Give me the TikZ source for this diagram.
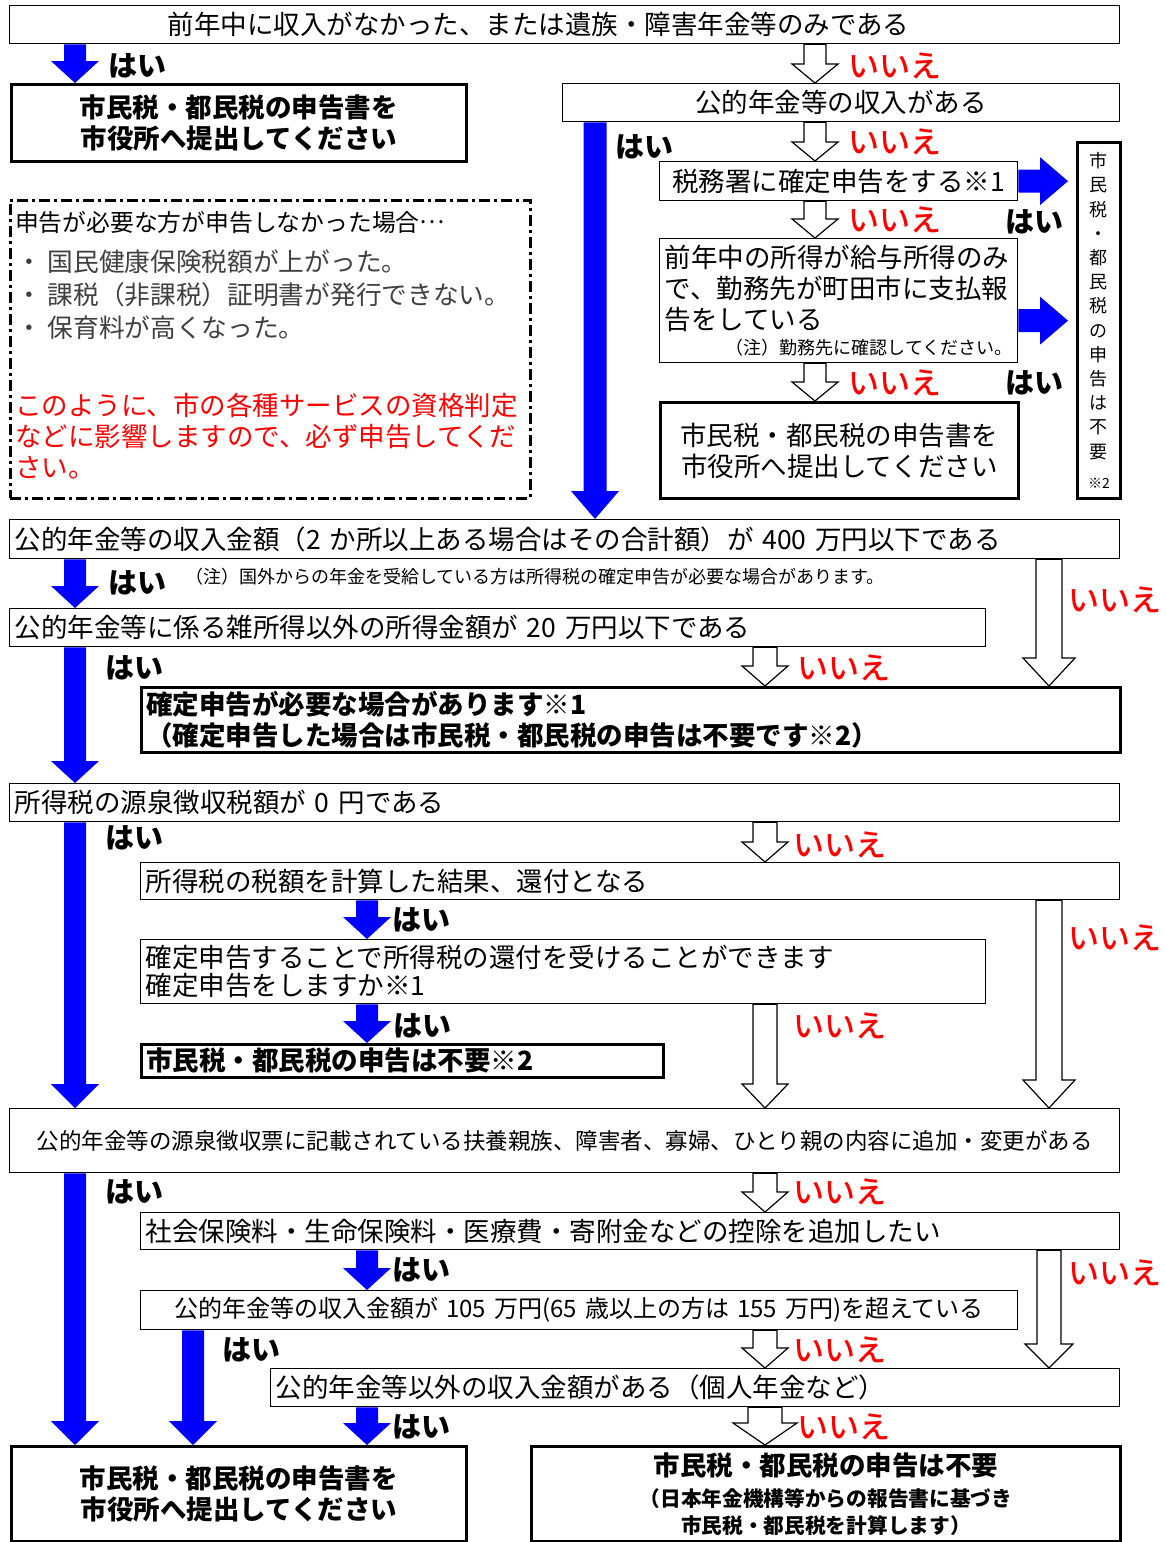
\documentclass[tikz,border=0pt]{standalone}
\usepackage{fontspec}
\setmainfont{Noto Sans CJK JP}
\newfontfamily\jpmedium{Noto Sans CJK JP Medium}
\usetikzlibrary{calc}

\newcommand{\fsz}[1]{\fontsize{#1}{#1}\selectfont}
% block arrows: style, from, to, half shaft, half head, head length
\newcommand{\blockdown}[6]{%
  \path[#1] let \p1=(#2), \p2=(#3) in
    (\x1-#4pt,\y1) -- (\x1-#4pt,\y2+#6pt) -- (\x1-#5pt,\y2+#6pt) -- (\x1,\y2)
    -- (\x1+#5pt,\y2+#6pt) -- (\x1+#4pt,\y2+#6pt) -- (\x1+#4pt,\y1) -- cycle;}
\newcommand{\blockright}[6]{%
  \path[#1] let \p1=(#2), \p2=(#3) in
    (\x1,\y1+#4pt) -- (\x2-#6pt,\y1+#4pt) -- (\x2-#6pt,\y1+#5pt) -- (\x2,\y1)
    -- (\x2-#6pt,\y1-#5pt) -- (\x2-#6pt,\y1-#4pt) -- (\x1,\y1-#4pt) -- cycle;}

\begin{document}
\begin{tikzpicture}[
    x=1pt, y=-1pt,
    box/.style={rectangle, draw=black, line width=1.3pt, anchor=north west,
      inner xsep=5pt, inner ysep=0pt, align=left, font=\fontsize{26.5}{31}\selectfont},
    boldbox/.style={box, line width=2.8pt, font=\bfseries\fontsize{26.5}{31}\selectfont},
    yes/.style={anchor=west, inner sep=0pt, font=\bfseries\fontsize{29}{29}\selectfont},
    no/.style={anchor=west, inner sep=0pt, text=red, font=\jpmedium\fontsize{31}{31}\selectfont},
    bluearrow/.style={fill=blue},
    hollowarrow/.style={fill=white, draw=black, line width=1.2pt, line join=miter}
]
\path[use as bounding box, fill=white] (0,0) rectangle (1166,1542);

% ============================================
% COLUMNAS DE FLECHAS
% ============================================
\coordinate (c1) at (75,0);
\coordinate (c2) at (815,0);
\coordinate (c3) at (595,0);
\coordinate (c4) at (765,0);
\coordinate (c5) at (1049,0);
\coordinate (c6) at (367,0);
\coordinate (c7) at (193,0);

% ============================================
% PARTE SUPERIOR
% ============================================
\node[box, text width=1100pt, minimum height=38pt] (top) at (9,5)
  {\hspace*{153pt}前年中に収入がなかった、または遺族・障害年金等のみである};
\node[boldbox, align=center, text width=445pt, minimum height=77pt] (filingA) at (10,83)
  {市民税・都民税の申告書を\\市役所へ提出してください};
\node[box, align=center, text width=547pt, minimum height=38pt] (pension) at (562,83)
  {公的年金等の収入がある};
\node[box, align=center, text width=348pt, minimum height=39pt] (taxoffice) at (659,161)
  {税務署に確定申告をする※1};
\node[box, text width=348pt, minimum height=124pt] (salary) at (659,238)
  {前年中の所得が給与所得のみ\\で、勤務先が町田市に支払報\\告をしている\\[-6pt]
   \hspace*{0pt plus 1filll}{\fsz{18}（注）勤務先に確認してください。}};
\node[box, line width=2.8pt, align=center, text width=348pt, minimum height=96pt] (filingR) at (659,401)
  {市民税・都民税の申告書を\\市役所へ提出してください};
\node[box, line width=2.8pt, align=center, text width=33pt, minimum height=356pt,
  font=\fontsize{18}{24.2}\selectfont] (noneedV) at (1076,141)
  {市\\民\\税\\・\\都\\民\\税\\の\\申\\告\\は\\不\\要\\[6pt]{\fsz{14}※2}};

% recuadro de aviso
\node[rectangle, draw=black, line width=2.6pt, dash pattern=on 11pt off 4pt on 3pt off 4pt,
  anchor=north west, minimum width=520pt, minimum height=298pt] (warn) at (9,199) {};
\node[anchor=west, inner sep=0pt, font=\fontsize{23.8}{26}\selectfont] (warnhead) at (15,222)
  {申告が必要な方が申告しなかった場合\raisebox{0.3em}{…}};
\node[anchor=west, inner sep=0pt, text=black!75, font=\fontsize{25.7}{28}\selectfont] (warn1) at (16,262)
  {・ 国民健康保険税額が上がった。};
\node[anchor=west, inner sep=0pt, text=black!75, font=\fontsize{25.7}{28}\selectfont] (warn2) at (16,295)
  {・ 課税（非課税）証明書が発行できない。};
\node[anchor=west, inner sep=0pt, text=black!75, font=\fontsize{25.7}{28}\selectfont] (warn3) at (16,328)
  {・ 保育料が高くなった。};
\node[anchor=north west, inner sep=0pt, align=left, text=red, font=\fontsize{26.5}{31}\selectfont] (warnred) at (15,393)
  {このように、市の各種サービスの資格判定\\などに影響しますので、必ず申告してくだ\\さい。};

% ============================================
% PARTE CENTRAL
% ============================================
\node[box, text width=1100pt, minimum height=39pt] (amount) at (9,519)
  {公的年金等の収入金額（2 か所以上ある場合はその合計額）が 400 万円以下である};
\node[anchor=west, inner sep=0pt, font=\fontsize{18}{20}\selectfont] (abroad) at (185,577)
  {（注）国外からの年金を受給している方は所得税の確定申告が必要な場合があります。};
\node[box, text width=966pt, minimum height=38pt] (other) at (9,608)
  {公的年金等に係る雑所得以外の所得金額が 20 万円以下である};
\node[boldbox, text width=969pt, minimum height=65pt] (mayfile) at (140,686)
  {確定申告が必要な場合があります※1\\（確定申告した場合は市民税・都民税の申告は不要です※2）};
\node[box, text width=1100pt, minimum height=38pt] (withheld) at (9,783)
  {所得税の源泉徴収税額が 0 円である};
\node[box, text width=969pt, minimum height=37pt] (refund) at (140,862)
  {所得税の税額を計算した結果、還付となる};
\node[box, text width=835pt, minimum height=64pt, font=\fontsize{26.5}{28}\selectfont] (askfile) at (140,939)
  {確定申告することで所得税の還付を受けることができます\\確定申告をしますか※1};
\node[boldbox, text width=512pt, minimum height=33pt] (noneedA) at (140,1043)
  {市民税・都民税の申告は不要※2};

% ============================================
% PARTE INFERIOR
% ============================================
\node[box, align=center, text width=1100pt, minimum height=64pt, font=\fontsize{22.5}{26}\selectfont] (dependents) at (9,1108)
  {公的年金等の源泉徴収票に記載されている扶養親族、障害者、寡婦、ひとり親の内容に追加・変更がある};
\node[box, text width=969pt, minimum height=37pt] (deduction) at (140,1212)
  {社会保険料・生命保険料・医療費・寄附金などの控除を追加したい};
\node[box, align=center, text width=867pt, minimum height=39pt, font=\fontsize{24}{28}\selectfont] (over105) at (140,1290)
  {公的年金等の収入金額が~105~万円(65~歳以上の方は~155~万円)を超えている};
\node[box, text width=839pt, minimum height=38pt] (private) at (270,1368)
  {公的年金等以外の収入金額がある（個人年金など）};
\node[boldbox, align=center, text width=445pt, minimum height=95pt] (filingB) at (10,1445)
  {市民税・都民税の申告書を\\市役所へ提出してください};
\node[boldbox, align=center, text width=579pt, minimum height=95pt] (noneedB) at (530,1445)
  {市民税・都民税の申告は不要\\{\fsz{20.7}（日本年金機構等からの報告書に基づき}\\[-4pt]{\fsz{20.7}市民税・都民税を計算します）}};

% ============================================
% FLECHAS AZULES (はい)
% ============================================
\blockdown{bluearrow}{top.south -| c1}{filingA.north -| c1}{11}{24}{22}
\blockdown{bluearrow}{pension.south -| c3}{amount.north -| c3}{11.5}{24}{28}
\blockright{bluearrow}{taxoffice.east}{$(taxoffice.east -| noneedV.west)+(-8,0)$}{11.5}{24}{28}
\blockright{bluearrow}{$(salary.east)+(0,20)$}{$(salary.east -| noneedV.west)+(-8,20)$}{11.5}{24}{28}
\blockdown{bluearrow}{amount.south -| c1}{other.north -| c1}{11}{24}{22}
\blockdown{bluearrow}{other.south -| c1}{withheld.north -| c1}{11}{24}{22}
\blockdown{bluearrow}{withheld.south -| c1}{dependents.north -| c1}{11}{24}{24}
\blockdown{bluearrow}{refund.south -| c6}{askfile.north -| c6}{11}{24}{22}
\blockdown{bluearrow}{askfile.south -| c6}{noneedA.north -| c6}{11}{24}{22}
\blockdown{bluearrow}{dependents.south -| c1}{filingB.north -| c1}{11}{24}{24}
\blockdown{bluearrow}{deduction.south -| c6}{over105.north -| c6}{11}{24}{22}
\blockdown{bluearrow}{over105.south -| c7}{filingB.north -| c7}{11}{24}{24}
\blockdown{bluearrow}{private.south -| c6}{filingB.north -| c6}{11}{24}{22}

% ============================================
% FLECHAS HUECAS (いいえ)
% ============================================
\blockdown{hollowarrow}{top.south -| c2}{pension.north -| c2}{11}{23}{19}
\blockdown{hollowarrow}{pension.south -| c2}{taxoffice.north -| c2}{11}{23}{19}
\blockdown{hollowarrow}{taxoffice.south -| c2}{salary.north -| c2}{11}{23}{19}
\blockdown{hollowarrow}{salary.south -| c2}{filingR.north -| c2}{11}{23}{19}
\blockdown{hollowarrow}{amount.south -| c5}{mayfile.north -| c5}{13}{26}{28}
\blockdown{hollowarrow}{other.south -| c4}{mayfile.north -| c4}{12}{23}{20}
\blockdown{hollowarrow}{withheld.south -| c4}{refund.north -| c4}{12}{23}{20}
\blockdown{hollowarrow}{refund.south -| c5}{dependents.north -| c5}{13}{26}{28}
\blockdown{hollowarrow}{askfile.south -| c4}{dependents.north -| c4}{12}{23}{24}
\blockdown{hollowarrow}{dependents.south -| c4}{deduction.north -| c4}{12}{23}{20}
\blockdown{hollowarrow}{deduction.south -| c5}{private.north -| c5}{12}{24}{24}
\blockdown{hollowarrow}{over105.south -| c4}{private.north -| c4}{12}{23}{20}
\blockdown{hollowarrow}{private.south -| c4}{noneedB.north -| c4}{17}{32}{22}

% ============================================
% ETIQUETAS
% ============================================
\node[yes] (yes1) at (108,66) {はい};
\node[yes] (yes2) at (615,147) {はい};
\node[yes] (yes3) at (1005,222) {はい};
\node[yes] (yes4) at (1005,383) {はい};
\node[yes] (yes5) at (108,583) {はい};
\node[yes] (yes6) at (105,668) {はい};
\node[yes] (yes7) at (105,838) {はい};
\node[yes] (yes8) at (392,920) {はい};
\node[yes] (yes9) at (393,1026) {はい};
\node[yes] (yes10) at (105,1192) {はい};
\node[yes] (yes11) at (392,1270) {はい};
\node[yes] (yes12) at (222,1350) {はい};
\node[yes] (yes13) at (392,1427) {はい};

\node[no] (no1) at (848,66) {いいえ};
\node[no] (no2) at (848,142) {いいえ};
\node[no] (no3) at (848,220) {いいえ};
\node[no] (no4) at (848,383) {いいえ};
\node[no] (no5) at (1068,600) {いいえ};
\node[no] (no6) at (797,668) {いいえ};
\node[no] (no7) at (793,845) {いいえ};
\node[no] (no8) at (1068,938) {いいえ};
\node[no] (no9) at (793,1026) {いいえ};
\node[no] (no10) at (793,1192) {いいえ};
\node[no] (no11) at (1068,1273) {いいえ};
\node[no] (no12) at (793,1350) {いいえ};
\node[no] (no13) at (797,1427) {いいえ};

\end{tikzpicture}
\end{document}
